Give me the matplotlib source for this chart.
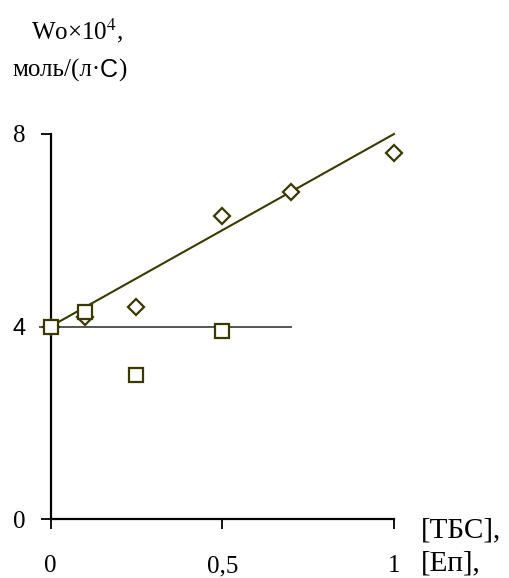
import matplotlib
matplotlib.use("Agg")
import matplotlib.pyplot as plt

# data
tbs_x = [0.0, 0.1, 0.25, 0.5, 0.7, 1.0]
tbs_y = [4.0, 4.2, 4.4, 6.3, 6.8, 7.6]
ep_x = [0.0, 0.1, 0.25, 0.5]
ep_y = [4.0, 4.3, 3.0, 3.9]
fit_tbs_x = [0.0, 0.25, 0.5, 0.7, 1.0]
fit_tbs_y = [4.0, 5.0, 6.0, 6.8, 8.0]
fit_ep_x = [-0.03, 0.7]
fit_ep_y = [4.0, 4.0]
xticks = [0, 0.5, 1]
xtick_labels = ["0", "0,5", "1"]
yticks = [0, 4, 8]
ytick_labels = ["0", "4", "8"]

olive = "#3a3a00"
serif = ["Liberation Serif", "DejaVu Serif"]
sans = ["Liberation Sans", "DejaVu Sans"]
fs = 18

fig = plt.figure(figsize=(5.09, 5.78), dpi=100)
ax = fig.add_axes([50.5 / 509, 59 / 578, (394 - 50.5) / 509, (519 - 134) / 578])

ax.plot(fit_ep_x, fit_ep_y, color="#555555", lw=1.4, clip_on=False, zorder=2)
ax.plot(fit_tbs_x, fit_tbs_y, color=olive, lw=1.5, clip_on=False, zorder=2)
ax.plot(tbs_x, tbs_y, linestyle="none", marker="D", markersize=8,
        markerfacecolor="white", markeredgecolor=olive, markeredgewidth=1.6,
        clip_on=False, zorder=3)
ax.plot(ep_x, ep_y, linestyle="none", marker="s", markersize=9.8,
        markerfacecolor="white", markeredgecolor=olive, markeredgewidth=1.6,
        clip_on=False, zorder=4)

ax.set_xlim(0, 1)
ax.set_ylim(0, 8)
for s in ["top", "right"]:
    ax.spines[s].set_visible(False)
for s in ["left", "bottom"]:
    ax.spines[s].set_linewidth(1.6)
    ax.spines[s].set_color("black")

ax.set_xticks(xticks)
ax.set_xticklabels(xtick_labels, family=serif, fontsize=fs)
ax.set_yticks(yticks)
ax.set_yticklabels(ytick_labels, family=serif, fontsize=fs)
for lbl in ax.get_yticklabels():
    if lbl.get_text() == "4":
        lbl.set_family(sans)
        lbl.set_fontsize(17)
ax.tick_params(axis="both", direction="out", length=7.2, width=1.3, colors="black")
ax.tick_params(axis="y", pad=11)
ax.tick_params(axis="x", pad=19)

# axis titles
fig.text(31 / 509, 1 - 39 / 578, "Wo×10$^{4}$,", family=serif, fontsize=fs,
         ha="left", va="baseline", math_fontfamily="stix")
t1 = fig.text(12 / 509, 1 - 77 / 578, "моль/(л·", family=serif, fontsize=fs,
              ha="left", va="baseline")
t2 = ax.annotate("С", xy=(1, 0), xycoords=t1, va="bottom", ha="left",
                 family=sans, fontsize=fs)
ax.annotate(")", xy=(1, 0), xycoords=t2, va="bottom", ha="left",
            family=serif, fontsize=fs)

fig.text(421 / 509, 1 - 530 / 578, "[ТБС],", family=serif, fontsize=21,
         ha="left", va="center")
fig.text(421 / 509, 1 - 563 / 578, "[Еп],", family=serif, fontsize=21,
         ha="left", va="center")

fig.savefig("out.png", dpi=100)
